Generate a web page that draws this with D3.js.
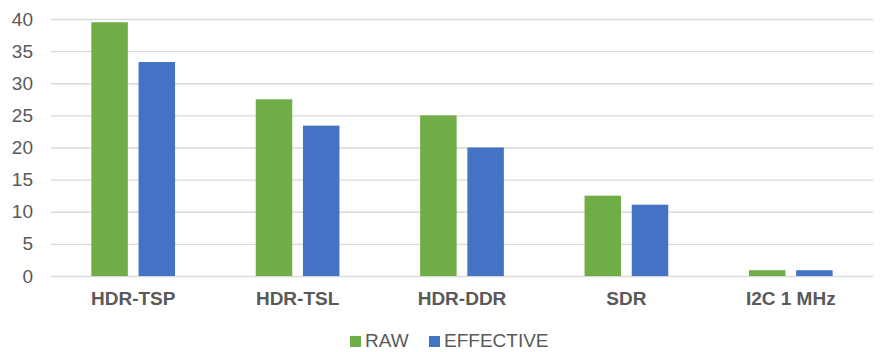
<!DOCTYPE html>
<html>
<head>
<meta charset="utf-8">
<script src="https://cdn.jsdelivr.net/npm/d3@7"></script>
<style>
  body { margin: 0; background: #fff; }
  text { font-family: Arial, "Liberation Sans", sans-serif; fill: #595959; }
</style>
</head>
<body>
<div id="chart"></div>
<script>
// data
const categories = ["HDR-TSP", "HDR-TSL", "HDR-DDR", "SDR", "I2C 1 MHz"];
const seriesNames = ["RAW", "EFFECTIVE"];
const rawValues = [39.5, 27.5, 25, 12.5, 0.9];
const effectiveValues = [33.3, 23.4, 20, 11.1, 0.9];
const yTicks = [0, 5, 10, 15, 20, 25, 30, 35, 40];
const colors = ["#70ad47", "#4472c4"];

const svgWidth = 881, svgHeight = 352;
const margin = { top: 19, right: 8, bottom: 76, left: 51 };
const width = svgWidth - margin.left - margin.right;
const height = svgHeight - margin.top - margin.bottom;

const svg = d3.select("#chart").append("svg")
  .attr("width", svgWidth)
  .attr("height", svgHeight);

const chartGroup = svg.append("g")
  .attr("transform", `translate(${margin.left}, ${margin.top})`);

// scales
const x0 = d3.scaleBand().domain(categories).range([0, width]).padding(0);
const x1 = d3.scaleBand().domain(seriesNames)
  .range([0, x0.bandwidth()])
  .paddingInner(0.227)
  .paddingOuter(0.855);
const y = d3.scaleLinear().domain([0, 40]).range([height, 0]);

// gridlines + y labels
const yAxis = chartGroup.append("g")
  .call(d3.axisLeft(y).tickValues(yTicks).tickSize(-width).tickPadding(18));
yAxis.select(".domain").remove();
yAxis.selectAll(".tick line").attr("stroke", "#d9d9d9").attr("stroke-width", 1.4);
yAxis.selectAll(".tick text")
  .attr("font-size", 19)
  .style("font-family", "Arial, 'Liberation Sans', sans-serif")
  .attr("fill", "#595959");

// bars
const rows = categories.map((c, i) => ({
  cat: c,
  values: [rawValues[i], effectiveValues[i]].map((v, j) => ({ name: seriesNames[j], value: v, idx: j }))
}));

chartGroup.selectAll(".cat")
  .data(rows)
  .enter().append("g")
  .attr("transform", d => `translate(${x0(d.cat)}, 0)`)
  .selectAll("rect")
  .data(d => d.values)
  .enter().append("rect")
  .attr("x", d => x1(d.name))
  .attr("width", x1.bandwidth())
  .attr("y", d => y(d.value))
  .attr("height", d => y(0) - y(d.value))
  .attr("fill", d => colors[d.idx]);

// category labels
const xAxis = chartGroup.append("g")
  .attr("transform", `translate(0, ${height})`)
  .call(d3.axisBottom(x0).tickSize(0).tickPadding(16));
xAxis.select(".domain").remove();
xAxis.selectAll(".tick text")
  .attr("font-size", 19)
  .attr("font-weight", "bold")
  .style("font-family", "Arial, 'Liberation Sans', sans-serif")
  .attr("fill", "#595959");

// legend
const legend = svg.append("g").attr("transform", "translate(350, 336)");
const legendX = [0, 79];
const item = legend.selectAll(".item")
  .data(seriesNames)
  .enter().append("g")
  .attr("transform", (d, i) => `translate(${legendX[i]}, 0)`);
item.append("rect")
  .attr("width", 11).attr("height", 11)
  .attr("fill", (d, i) => colors[i]);
item.append("text")
  .attr("x", 15).attr("y", 11)
  .attr("font-size", 19)
  .text(d => d);
</script>
</body>
</html>
